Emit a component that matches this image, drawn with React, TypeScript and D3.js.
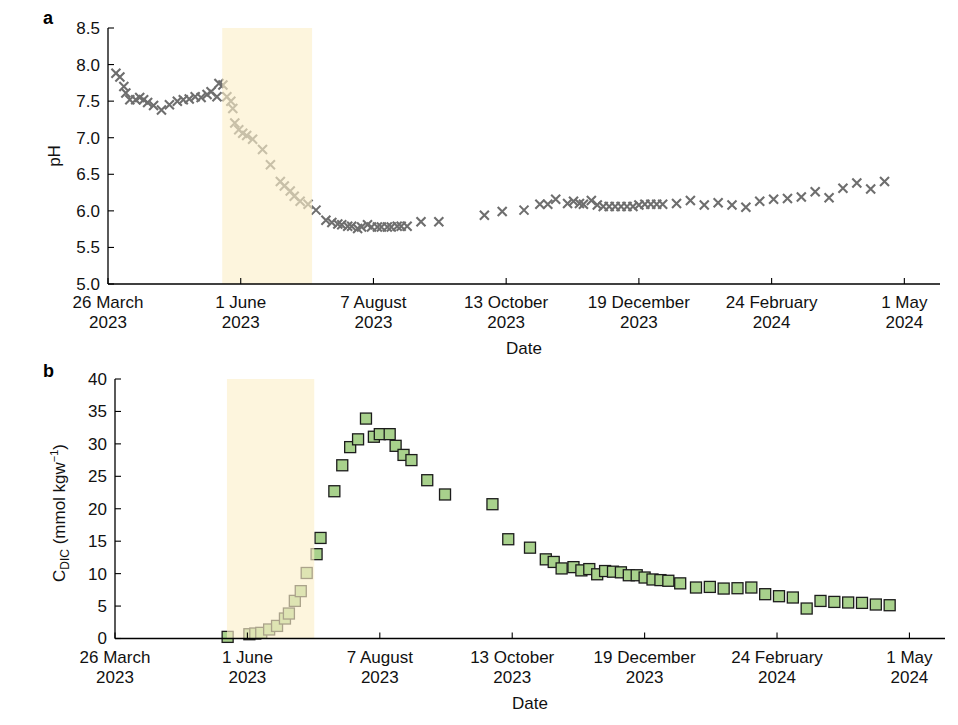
import React from 'react';
import * as d3 from 'd3';

// pH readings (panel a)
const phDates = [
  '2023-03-30', '2023-04-01', '2023-04-03', '2023-04-04', '2023-04-06', '2023-04-09',
  '2023-04-11', '2023-04-13', '2023-04-15', '2023-04-18', '2023-04-22', '2023-04-26',
  '2023-04-30', '2023-05-03', '2023-05-06', '2023-05-09', '2023-05-12', '2023-05-15',
  '2023-05-17', '2023-05-20', '2023-05-21', '2023-05-23', '2023-05-25', '2023-05-27',
  '2023-05-28', '2023-05-29', '2023-05-31', '2023-06-02', '2023-06-04', '2023-06-07',
  '2023-06-12', '2023-06-16', '2023-06-21', '2023-06-23', '2023-06-26', '2023-06-28',
  '2023-07-01', '2023-07-05', '2023-07-09', '2023-07-14', '2023-07-17', '2023-07-20',
  '2023-07-22', '2023-07-25', '2023-07-27', '2023-07-30', '2023-08-01', '2023-08-04',
  '2023-08-06', '2023-08-09', '2023-08-11', '2023-08-14', '2023-08-16', '2023-08-19',
  '2023-08-21', '2023-08-24', '2023-08-31', '2023-09-09', '2023-10-02', '2023-10-11',
  '2023-10-22', '2023-10-30', '2023-11-03', '2023-11-07', '2023-11-13', '2023-11-16',
  '2023-11-19', '2023-11-21', '2023-11-25', '2023-11-28', '2023-12-01', '2023-12-04',
  '2023-12-07', '2023-12-10', '2023-12-13', '2023-12-16', '2023-12-19', '2023-12-22',
  '2023-12-25', '2023-12-28', '2023-12-31', '2024-01-07', '2024-01-14', '2024-01-21',
  '2024-01-28', '2024-02-04', '2024-02-11', '2024-02-18', '2024-02-25', '2024-03-03',
  '2024-03-10', '2024-03-17', '2024-03-24', '2024-03-31', '2024-04-07', '2024-04-14',
  '2024-04-21',
];
const phValues = [
  7.88, 7.83, 7.70, 7.61, 7.52, 7.52,
  7.55, 7.52, 7.48, 7.44, 7.38, 7.45,
  7.50, 7.52, 7.53, 7.56, 7.55, 7.59,
  7.63, 7.56, 7.74, 7.72, 7.56, 7.50,
  7.40, 7.20, 7.11, 7.06, 7.03, 6.98,
  6.84, 6.63, 6.40, 6.34, 6.27, 6.20,
  6.13, 6.09, 6.01, 5.87, 5.84, 5.82,
  5.81, 5.79, 5.79, 5.76, 5.78, 5.81,
  5.78, 5.78, 5.78, 5.78, 5.78, 5.79,
  5.79, 5.79, 5.85, 5.85, 5.94, 5.99,
  6.01, 6.09, 6.09, 6.16, 6.10, 6.13,
  6.10, 6.09, 6.14, 6.08, 6.06, 6.06,
  6.06, 6.06, 6.06, 6.06, 6.08, 6.09,
  6.09, 6.09, 6.09, 6.10, 6.14, 6.08,
  6.11, 6.08, 6.05, 6.13, 6.16, 6.17,
  6.19, 6.26, 6.18, 6.31, 6.38, 6.30,
  6.40,
];

// dissolved inorganic carbon (panel b)
const dicDates = [
  '2023-05-22', '2023-06-02', '2023-06-05', '2023-06-08', '2023-06-12', '2023-06-16',
  '2023-06-20', '2023-06-22', '2023-06-25', '2023-06-28', '2023-07-01', '2023-07-06',
  '2023-07-08', '2023-07-15', '2023-07-19', '2023-07-23', '2023-07-27', '2023-07-31',
  '2023-08-04', '2023-08-07', '2023-08-12', '2023-08-15', '2023-08-19', '2023-08-23',
  '2023-08-31', '2023-09-09', '2023-10-03', '2023-10-11', '2023-10-22', '2023-10-30',
  '2023-11-03', '2023-11-07', '2023-11-13', '2023-11-17', '2023-11-21', '2023-11-25',
  '2023-11-29', '2023-12-03', '2023-12-07', '2023-12-11', '2023-12-15', '2023-12-19',
  '2023-12-23', '2023-12-27', '2023-12-31', '2024-01-06', '2024-01-14', '2024-01-21',
  '2024-01-28', '2024-02-04', '2024-02-11', '2024-02-18', '2024-02-25', '2024-03-03',
  '2024-03-10', '2024-03-17', '2024-03-24', '2024-03-31', '2024-04-07', '2024-04-14',
  '2024-04-21',
];
const dicValues = [
  0.25, 0.66, 0.77, 0.87, 1.39, 1.94,
  3.08, 3.85, 5.8, 7.3, 10.1, 13.0,
  15.5, 22.7, 26.7, 29.5, 30.7, 33.9,
  31.1, 31.5, 31.5, 29.7, 28.3, 27.5,
  24.4, 22.2, 20.7, 15.3, 14.0, 12.2,
  11.8, 10.8, 11.0, 10.5, 10.7, 9.9,
  10.4, 10.3, 10.2, 9.75, 9.75, 9.4,
  9.1, 9.0, 8.9, 8.5, 7.86, 7.95,
  7.7, 7.75, 7.86, 6.83, 6.52, 6.32,
  4.62, 5.79, 5.64, 5.55, 5.49, 5.24,
  5.13,
];

const xStart = '2023-03-26';
const xEnd = '2024-05-19';
const tickDates = ['2023-03-26', '2023-06-01', '2023-08-07', '2023-10-13', '2023-12-19', '2024-02-24', '2024-05-01'];
const tickDays = ['26 March', '1 June', '7 August', '13 October', '19 December', '24 February', '1 May'];
const tickYears = ['2023', '2023', '2023', '2023', '2023', '2024', '2024'];
const shadeA = ['2023-05-22T16:00:00', '2023-07-07T00:00:00'];
const shadeB = ['2023-05-21T16:00:00', '2023-07-04T20:00:00'];

const phTicks = [5.0, 5.5, 6.0, 6.5, 7.0, 7.5, 8.0, 8.5];
const dicTicks = [0, 5, 10, 15, 20, 25, 30, 35, 40];

const toDate = (s: string) => new Date(s.length > 10 ? s + 'Z' : s + 'T00:00:00Z');

const FONT = '"Liberation Sans", Arial, Helvetica, sans-serif';

function Panel({ box, yDomain, yTicks, fmt, dates, values, kind, shade, letter, letterY, yLabel }) {
  const x = d3.scaleUtc().domain([toDate(xStart), toDate(xEnd)]).range([box.left, box.right]);
  const y = d3.scaleLinear().domain(yDomain).range([box.bottom, box.top]);
  const pts = dates.map((d, i) => ({ px: x(toDate(d)), py: y(values[i]) }));
  const s0 = x(toDate(shade[0]));
  const s1 = x(toDate(shade[1]));

  return (
    <g fontFamily={FONT}>
      <text x={43} y={letterY} fontSize={18} fontWeight="bold">{letter}</text>

      {kind === 'cross'
        ? pts.map((p, i) => (
            <path key={i}
              d={`M${p.px - 4.5},${p.py - 4.5}L${p.px + 4.5},${p.py + 4.5}M${p.px - 4.5},${p.py + 4.5}L${p.px + 4.5},${p.py - 4.5}`}
              stroke="#6e6e6e" strokeWidth={2.1} fill="none" />
          ))
        : pts.map((p, i) => (
            <rect key={i} x={p.px - 5.5} y={p.py - 5.5} width={11} height={11}
              fill="#a8d18c" stroke="#1c1c1c" strokeWidth={1.3} />
          ))}

      {/* light overlay marking the highlighted period */}
      <rect x={s0} y={box.top} width={s1 - s0} height={box.bottom - box.top}
        fill="#fcefca" fillOpacity={0.64} />

      {/* axes */}
      <line x1={box.left} x2={box.left} y1={box.top} y2={box.bottom} stroke="#000" strokeWidth={1.3} />
      <line x1={box.left} x2={box.right} y1={box.bottom} y2={box.bottom} stroke="#000" strokeWidth={1.3} />

      {yTicks.map((t) => (
        <g key={t}>
          <line x1={box.left} x2={box.left + 6} y1={y(t)} y2={y(t)} stroke="#000" strokeWidth={1.1} />
          <text x={box.left - 8} y={y(t)} dy="0.35em" textAnchor="end" fontSize={17} fill="#111">{fmt(t)}</text>
        </g>
      ))}

      {tickDates.map((d, i) => {
        const tx = x(toDate(d));
        return (
          <g key={d}>
            <line x1={tx} x2={tx} y1={box.bottom} y2={box.bottom - 6} stroke="#000" strokeWidth={1.1} />
            <text x={tx} y={box.bottom + 24} textAnchor="middle" fontSize={17} fill="#111">{tickDays[i]}</text>
            <text x={tx} y={box.bottom + 44} textAnchor="middle" fontSize={17} fill="#111">{tickYears[i]}</text>
          </g>
        );
      })}

      <text x={(box.left + box.right) / 2} y={box.bottom + 70} textAnchor="middle" fontSize={17} fill="#111">Date</text>
      {yLabel}
    </g>
  );
}

export default function App() {
  const boxA = { left: 108, right: 940, top: 28, bottom: 284 };
  const boxB = { left: 115, right: 945, top: 379, bottom: 638.5 };

  return (
    <svg width={958} height={725} style={{ position: 'absolute', left: 0, top: 0, background: '#fff' }}>
      <Panel box={boxA} yDomain={[5, 8.5]} yTicks={phTicks} fmt={(v) => v.toFixed(1)}
        dates={phDates} values={phValues} kind="cross" shade={shadeA} letter="a" letterY={24}
        yLabel={
          <text transform="translate(60,156) rotate(-90)" textAnchor="middle" fontSize={17} fill="#111">pH</text>
        } />
      <Panel box={boxB} yDomain={[0, 40]} yTicks={dicTicks} fmt={(v) => String(v)}
        dates={dicDates} values={dicValues} kind="square" shade={shadeB} letter="b" letterY={377}
        yLabel={
          <text transform="translate(65,513) rotate(-90)" textAnchor="middle" fontSize={17} fill="#111">
            C<tspan fontSize={12} dy={4}>DIC</tspan>
            <tspan dy={-4}> (mmol kgw</tspan>
            <tspan fontSize={11} dy={-7}>−1</tspan>
            <tspan dy={7}>)</tspan>
          </text>
        } />
    </svg>
  );
}
